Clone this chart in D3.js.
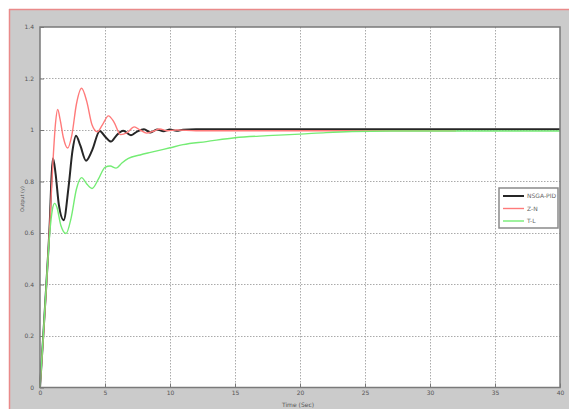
<!DOCTYPE html>
<html>
<head>
<meta charset="utf-8">
<script src="https://cdn.jsdelivr.net/npm/d3@7"></script>
<style>
  html, body { margin: 0; padding: 0; background: #fff; }
  svg { display: block; }
  text { font-family: "DejaVu Sans", sans-serif; }
</style>
</head>
<body>
<svg id="chart" width="569" height="409"></svg>
<script>
// Step responses of the closed loop for three PID tunings
const seriesNames = ["NSGA-PID", "Z-N", "T-L"];
const seriesColors = ["#262626", "#ff7a7a", "#74ec74"];
const seriesWidths = [2, 1.4, 1.4];

const nsgaT = [0, 0.25, 0.5, 0.75, 0.9, 1.0, 1.2, 1.45, 1.82, 2.2, 2.5, 2.77, 3.1, 3.54, 4.0, 4.6, 5.0, 5.46, 5.9, 6.4, 7.0, 7.5, 8.0, 8.5, 9.0, 9.5, 10.0, 10.5, 11, 12, 40];
const nsgaY = [0, 0.2, 0.41, 0.64, 0.83, 0.89, 0.83, 0.71, 0.65, 0.78, 0.92, 0.978, 0.94, 0.881, 0.92, 0.996, 0.975, 0.955, 0.98, 0.997, 0.98, 0.995, 1.003, 0.99, 1.002, 0.995, 1.002, 0.997, 1.001, 1.003, 1.003];

const znT = [0, 0.25, 0.5, 0.75, 1.0, 1.2, 1.36, 1.55, 1.8, 2.13, 2.45, 2.8, 3.2, 3.6, 4.0, 4.4, 4.8, 5.26, 5.7, 6.2, 6.7, 7.25, 7.7, 8.2, 8.7, 9.2, 9.8, 10.5, 12, 32];
const znY = [0, 0.19, 0.4, 0.63, 0.88, 1.03, 1.08, 1.04, 0.97, 0.93, 0.98, 1.1, 1.162, 1.11, 1.02, 0.993, 1.02, 1.055, 1.03, 0.982, 0.99, 1.012, 1.0, 0.988, 0.995, 1.004, 0.997, 1.0, 0.997, 0.997];

const tlT = [0, 0.25, 0.5, 0.75, 0.95, 1.12, 1.3, 1.6, 2.0, 2.4, 2.8, 3.2, 3.6, 4.0, 4.5, 5.0, 5.4, 5.85, 6.3, 6.8, 7.7, 8.5, 10, 11, 12.8, 15, 17.5, 20, 22, 24, 27, 40];
const tlY = [0, 0.2, 0.41, 0.6, 0.69, 0.715, 0.7, 0.63, 0.598, 0.66, 0.77, 0.815, 0.79, 0.773, 0.81, 0.855, 0.86, 0.852, 0.872, 0.89, 0.903, 0.913, 0.931, 0.943, 0.955, 0.97, 0.978, 0.984, 0.99, 0.994, 0.996, 0.996];

const xTicks = [0, 5, 10, 15, 20, 25, 30, 35, 40];
const yTicks = [0, 0.2, 0.4, 0.6, 0.8, 1, 1.2, 1.4];
const xLabel = "Time (Sec)";
const yLabel = "Output (y)";

const series = [
  { name: seriesNames[0], t: nsgaT, y: nsgaY },
  { name: seriesNames[1], t: znT, y: znY },
  { name: seriesNames[2], t: tlT, y: tlY }
];

const svg = d3.select("#chart");

// figure background with its frame edge
svg.append("rect").attr("x", 9).attr("y", 9).attr("width", 560).attr("height", 400).attr("fill", "#cbcbcb");
svg.append("line").attr("x1", 9).attr("x2", 569).attr("y1", 9.5).attr("y2", 9.5).attr("stroke", "#e98a8a").attr("stroke-width", 1.5);
svg.append("line").attr("x1", 9.5).attr("x2", 9.5).attr("y1", 9).attr("y2", 409).attr("stroke", "#e98a8a").attr("stroke-width", 1.5);

const plot = { left: 40, top: 27, right: 560, bottom: 387.5 };

const x = d3.scaleLinear().domain([0, 40]).range([plot.left, plot.right]);
const y = d3.scaleLinear().domain([0, 1.4]).range([plot.bottom, plot.top]);

svg.append("rect")
  .attr("x", plot.left).attr("y", plot.top)
  .attr("width", plot.right - plot.left).attr("height", plot.bottom - plot.top)
  .attr("fill", "#fff");

// dotted grid
const grid = svg.append("g").attr("stroke", "#aaaaaa").attr("stroke-width", 1).attr("stroke-dasharray", "1.5,1.5");
grid.selectAll("line.gx").data(xTicks.slice(1, -1)).join("line")
  .attr("x1", d => Math.round(x(d)) + 0.5).attr("x2", d => Math.round(x(d)) + 0.5)
  .attr("y1", plot.top).attr("y2", plot.bottom);
grid.selectAll("line.gy").data(yTicks.slice(1, -1)).join("line")
  .attr("y1", d => Math.round(y(d)) + 0.5).attr("y2", d => Math.round(y(d)) + 0.5)
  .attr("x1", plot.left).attr("x2", plot.right);

// axes
const xAxis = d3.axisBottom(x).tickValues(xTicks).tickSize(-4).tickPadding(3).tickFormat(d3.format("d"));
const yAxis = d3.axisLeft(y).tickValues(yTicks).tickSize(-4).tickPadding(6).tickFormat(d => d3.format("")(d));

const gx = svg.append("g").attr("transform", `translate(0,${plot.bottom})`).call(xAxis);
const gy = svg.append("g").attr("transform", `translate(${plot.left},0)`).call(yAxis);
[gx, gy].forEach(g => {
  g.select(".domain").remove();
  g.selectAll(".tick line").attr("stroke", "#777");
  g.selectAll(".tick text").attr("fill", "#555").style("font-size", "6px");
});

// curves
const line = d3.line()
  .x(d => x(d[0]))
  .y(d => y(d[1]))
  .curve(d3.curveMonotoneX);

const curves = svg.append("g");
series.forEach((s, i) => {
  const pts = s.t.map((t, k) => [t, s.y[k]]);
  curves.append("path")
    .attr("d", line(pts))
    .attr("fill", "none")
    .attr("stroke", seriesColors[i])
    .attr("stroke-width", seriesWidths[i])
    .attr("stroke-linejoin", "round");
});

// plot frame
svg.append("rect")
  .attr("x", plot.left).attr("y", plot.top)
  .attr("width", plot.right - plot.left).attr("height", plot.bottom - plot.top)
  .attr("fill", "none").attr("stroke", "#7a7a7a").attr("stroke-width", 1.5);

// axis titles
svg.append("text").attr("x", 298).attr("y", 407)
  .attr("text-anchor", "middle").attr("fill", "#555").style("font-size", "6px").text(xLabel);
svg.append("text").attr("transform", "translate(24,199) rotate(-90)")
  .attr("text-anchor", "middle").attr("fill", "#555").style("font-size", "5px").text(yLabel);

// legend
const lg = svg.append("g").attr("transform", "translate(499,188)");
lg.append("rect").attr("width", 59).attr("height", 40).attr("fill", "#fff")
  .attr("stroke", "#8a8a8a").attr("stroke-width", 1.5);
series.forEach((s, i) => {
  const yy = 8 + i * 12.5;
  lg.append("line").attr("x1", 4).attr("x2", 25).attr("y1", yy).attr("y2", yy)
    .attr("stroke", seriesColors[i]).attr("stroke-width", seriesWidths[i]);
  lg.append("text").attr("x", 28).attr("y", yy + 2).attr("fill", "#666")
    .style("font-size", "6px").text(s.name);
});
</script>
</body>
</html>
